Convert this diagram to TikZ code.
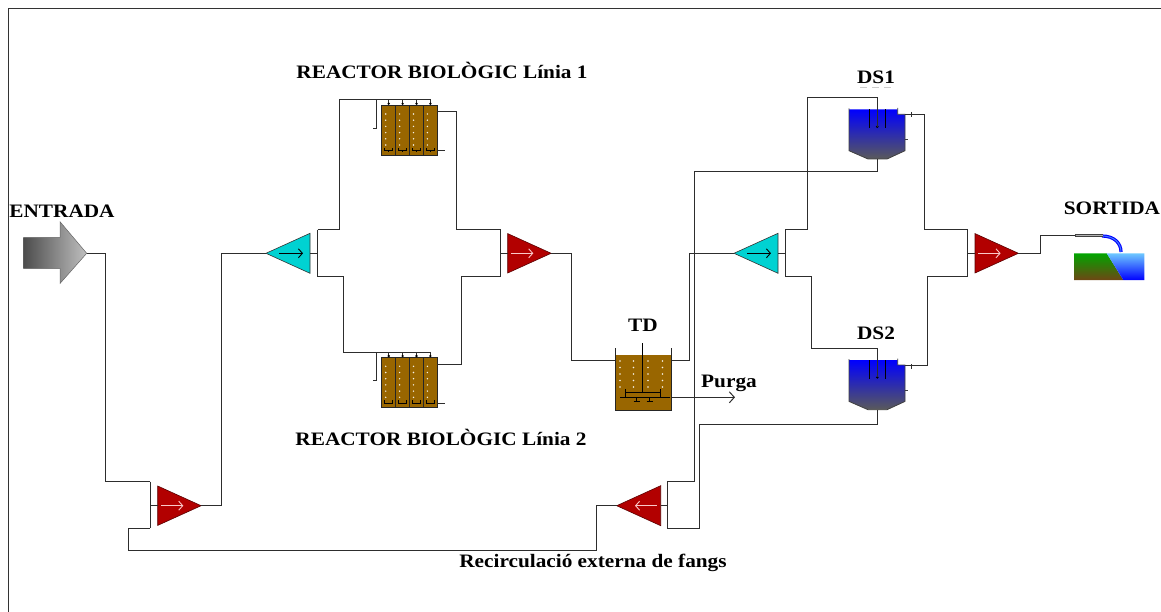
\documentclass[tikz,border=0pt]{standalone}
\usepackage{fontspec}
\setmainfont{Liberation Serif}
\newfontfamily\labfont[FakeStretch=1.12]{Liberation Serif}
\usetikzlibrary{arrows.meta,calc}

\definecolor{redfill}{RGB}{178,0,0}
\definecolor{redline}{RGB}{90,0,0}
\definecolor{arrowpink}{RGB}{250,200,200}
\definecolor{cyanfill}{RGB}{0,210,210}
\definecolor{sludge}{RGB}{153,102,0}
\definecolor{wirecol}{RGB}{45,45,45}
\definecolor{dsblue}{RGB}{0,0,255}
\definecolor{dsmid}{RGB}{30,30,175}
\definecolor{dsgray}{RGB}{90,90,90}
\definecolor{landgreen}{RGB}{0,165,0}
\definecolor{landbrown}{RGB}{110,70,20}
\definecolor{waterlight}{RGB}{110,200,255}

\tikzset{
  wire/.style={draw=wirecol, line width=1pt},
  lab/.style={font=\labfont\bfseries\fontsize{19}{22}\selectfont, inner sep=0pt, text=black},
  flowtip/.style={-{Straight Barb[length=4pt,width=9pt,line width=0.9pt]}},
  % red triangle, apex to the right; origin at the middle of its base
  pics/merge/.style={code={
    \filldraw[fill=redfill, draw=redline, line width=0.6pt] (0,-19.7) -- (43.4,0) -- (0,19.7) -- cycle;
    \draw[arrowpink, line width=0.8pt, flowtip] (3.3,0) -- (25.6,0);
    \coordinate (-w) at (0,0);
    \coordinate (-e) at (43.4,0);
  }},
  % cyan triangle, apex to the left; origin at the apex
  pics/split/.style={code={
    \filldraw[fill=cyanfill, draw=black!80, line width=0.6pt] (0,0) -- (44,-20) -- (44,20) -- cycle;
    \draw[black, line width=0.8pt, flowtip] (13,0) -- (37,0);
    \coordinate (-w) at (0,0);
    \coordinate (-e) at (44,0);
  }},
  % red triangle, apex to the left, flow to the left
  pics/pump/.style={code={
    \filldraw[fill=redfill, draw=redline, line width=0.6pt] (0,0) -- (44,-20) -- (44,20) -- cycle;
    \draw[arrowpink, line width=0.8pt, flowtip] (40,0) -- (18.3,0);
    \coordinate (-w) at (0,0);
    \coordinate (-e) at (44,0);
  }},
  % four-cell aerated reactor; origin at the top-left corner of the cells
  pics/reactor/.style={code={
    \foreach \c in {0,1,2,3} {
      \filldraw[fill=sludge, draw=black!85, line width=0.8pt] (\c*13.9,0) rectangle ++(13.9,50);
      \foreach \r in {0,...,5}
        \fill[white!90!sludge] (\c*13.9+4,9+\r*6.2) circle (0.8pt);
      \draw[black, line width=0.6pt] (\c*13.9+3,43) -- ++(0,2.5) -- ++(8,0) -- ++(0,-2.5);
      \draw[black, line width=0.6pt] (\c*13.9+7,45.5) -- ++(0,1.5);
      \draw[wirecol, line width=0.9pt] (\c*13.9+7,-5) -- (\c*13.9+7,-1.5);
      \fill[black] (\c*13.9+7,-1.3) circle (1.3pt);
    }
    \draw[wirecol, line width=0.9pt] (-5,-5) -- (-5,23.3) -- (-8.7,23.3);
    \draw[wirecol, line width=0.9pt] (55.6,45.7) -- (63.3,45.7);
    \coordinate (-feed) at (49.7,-5);
    \coordinate (-out) at (55.6,6.7);
  }},
  % secondary settler; origin at the top-left corner of the water surface
  pics/clarifier/.style={code={
    \shade[top color=dsblue, middle color=dsmid, bottom color=dsgray]
      (0,0) -- (48.7,0) -- (48.7,5) -- (56,5) -- (56,41.4) -- (38,49.7) -- (19,49.7) -- (0,41.4) -- cycle;
    \draw[black!75, line width=0.8pt]
      (0,-1) -- (0,41.4) -- (19,49.7) -- (38,49.7) -- (56,41.4) -- (56,5) -- (48.7,5) -- (48.7,-1.5);
    \draw[black, line width=0.9pt] (20.3,0) -- (20.3,19) (36,0) -- (36,19);
    \draw[black!75, line width=0.8pt] (56,30) -- (58.5,30);
    \coordinate (-in) at (28.3,17.4);
    \coordinate (-eff) at (56,5);
    \coordinate (-under) at (28.3,49.7);
  }}
}

\begin{document}
\begin{tikzpicture}[x=1pt,y=-1pt]
  \useasboundingbox (0,0) rectangle (1161,612);

  % frame
  \draw[black!80, line width=0.8pt] (8,612) -- (8,8) -- (1161,8);

  % ---------- inlet ----------
  \shade[left color=black!70, right color=black!25, draw=black!60, line width=0.5pt]
    (23.5,237.5) -- (60,237.5) -- (60,221.7) -- (86.7,253.3) -- (60,283.5) -- (60,268.5) -- (23.5,268.5) -- cycle;
  \coordinate (in) at (86.7,253.3);
  \node[lab] (lblin) at (62,211) {ENTRADA};

  % ---------- units ----------
  \pic (mx) at (157.7,505.7) {merge};
  \pic (sp1) at (266,253.3) {split};
  \pic (r1) at (381.7,105) {reactor};
  \pic (r2) at (381.7,357.3) {reactor};
  \pic (mg1) at (507.7,253.3) {merge};
  \pic (sp2) at (734,253.3) {split};
  \pic (ds1) at (849,109.3) {clarifier};
  \pic (ds2) at (849,360) {clarifier};
  \pic (mg2) at (975,253.3) {merge};
  \pic (rp) at (616.7,505.7) {pump};

  \fill (ds1-in) circle (1.4pt);
  \fill (ds2-in) circle (1.4pt);

  % ---------- TD tank with stirrer ----------
  \fill[sludge] (615,355) rectangle (671.7,410);
  \foreach \cx in {620,633.5,648,662.5}
    \foreach \r in {0,...,4}
      \fill[white!90!sludge] (\cx,361+\r*6.5) circle (0.8pt);
  \draw[black!85, line width=0.9pt] (615,348) -- (615,410) -- (671.7,410) -- (671.7,348);
  \draw[black, line width=1.4pt] (642.3,343.3) -- (642.3,392);
  \draw[black, line width=0.8pt] (625,392) -- (660,392)
        (625,389) -- (625,397.5) (660,389) -- (660,397.5)
        (620,397.5) -- (670,397.5)
        (636.5,397.5) -- (636.5,401.5) (633.5,401.5) -- (639.5,401.5)
        (649.5,397.5) -- (649.5,401.5) (646.5,401.5) -- (652.5,401.5);
  \coordinate (td-in) at (615,360);
  \coordinate (td-out) at (671.7,360);
  \coordinate (td-waste) at (671.7,397.3);
  \coordinate (purge) at (735,397.3);
  \draw[wire, -{Straight Barb[length=5pt,width=11pt,line width=1pt]}] (td-waste) -- (purge);

  % ---------- outfall ----------
  \shade[top color=landgreen, bottom color=landbrown] (1074,253.3) -- (1106.7,253.3) -- (1123.3,280) -- (1074,280) -- cycle;
  \shade[top color=waterlight, bottom color=dsblue] (1106.7,253.3) -- (1144.3,253.3) -- (1144.3,280) -- (1123.3,280) -- cycle;
  \draw[dsblue, line width=3.2pt] (1102,236) .. controls (1114,236) and (1121,243) .. (1121,252);
  \draw[waterlight!60!dsblue, line width=1pt] (1102,236) .. controls (1114,236) and (1121,243) .. (1121,252);
  \draw[black!75, line width=3.6pt] (1075,235.7) -- (1103,235.7);
  \draw[black!30, line width=1.4pt] (1075.5,235.7) -- (1102.5,235.7);
  \coordinate (pipe) at (1075,235.7);

  % ---------- junction points ----------
  \coordinate (b0t) at (150,481.7);
  \coordinate (b0b) at (150,528.3);
  \coordinate (b1t) at (317.7,230);
  \coordinate (b1b) at (317.7,276.7);
  \coordinate (b2t) at (500.7,230);
  \coordinate (b2b) at (500.7,276.7);
  \coordinate (b3t) at (785,230);
  \coordinate (b3b) at (785,276.7);
  \coordinate (b4t) at (967.7,230);
  \coordinate (b4b) at (967.7,276.7);
  \coordinate (b5t) at (667.3,481.7);
  \coordinate (b5b) at (667.3,528.3);

  % ---------- connectors ----------
  % feed to the inlet mixer
  \draw[wire] (in) -- (105.7,253.3) -- (105.7,481.7) -- (b0t);
  \draw[wire] (b0t) -- (b0b);
  \draw[wire] (150,505.7) -- (mx-w);
  % mixer to the first splitter
  \draw[wire] (mx-e) -- (221.7,505.7) -- (221.7,253.3) -- (sp1-w);
  \draw[wire] (sp1-e) -- (317.7,253.3);
  \draw[wire] (b1t) -- (b1b);
  % splitter to the two reactor lines
  \draw[wire] (b1t) -| (339,100) -- (r1-feed);
  \draw[wire] (b1b) -| (343.3,352.3) -- (r2-feed);
  % reactors to the merger
  \draw[wire] (r1-out) -| (456,230) -- (b2t);
  \draw[wire] (r2-out) -| (461,276.7) -- (b2b);
  \draw[wire] (b2t) -- (b2b);
  \draw[wire] (500.7,253.3) -- (mg1-w);
  % merger to TD
  \draw[wire] (mg1-e) -- (571.7,253.3) -- (571.7,360) -- (td-in);
  % TD to the second splitter
  \draw[wire] (td-out) -- (689,360) -- (689,253.3) -- (sp2-w);
  \draw[wire] (sp2-e) -- (785,253.3);
  \draw[wire] (b3t) -- (b3b);
  % splitter to the settlers
  \draw[wire] (b3t) -| (807.3,97.3) -| (ds1-in);
  \draw[wire] (b3b) -| (811.7,348.3) -| (ds2-in);
  % settler overflows to the final merger
  \draw[wire] (ds1-eff) -| (924,230) -- (b4t);
  \draw[wire] (ds2-eff) -| (927.7,276.7) -- (b4b);
  \draw[wire] (911,111.8) -- (911,116.8);
  \draw[wire] (911,364.2) -- (911,369.2);
  \draw[wire] (b4t) -- (b4b);
  \draw[wire] (967.7,253.3) -- (mg2-w);
  \draw[wire] (mg2-e) -- (1040,253.3) -- (1040,235.7) -- (pipe);
  % settler underflows to the recirculation pump
  \draw[wire] (ds1-under) -- (877.3,172) -- (694.3,172) -- (694.3,481.7) -- (b5t);
  \draw[wire] (ds2-under) -- (877.3,424) -- (699,424) -- (699,528.3) -- (b5b);
  \draw[wire] (b5t) -- (b5b);
  \draw[wire] (667.3,505.7) -- (rp-e);
  % external recirculation back to the inlet mixer
  \draw[wire] (rp-w) -- (596,505.7) -- (596,550) -- (128,550) -- (128,528.3) -- (b0b);

  % ---------- labels ----------
  \node[lab] (lblr1) at (442,70) {REACTOR BIOLÒGIC Línia 1};
  \node[lab] (lblr2) at (441,437) {REACTOR BIOLÒGIC Línia 2};
  \node[lab] (lbltd) at (643,325) {TD};
  \node[lab] (lblpurga) at (729,383) {Purga};
  \node[lab] (lblds1) at (876,77) {DS1};
  \draw[black!20, line width=1pt, dash pattern=on 7pt off 5pt] (860,88) -- (894,88);
  \node[lab] (lblds2) at (876,333) {DS2};
  \node[lab] (lblout) at (1112,208) {SORTIDA};
  \node[lab] (lblrec) at (593,563) {Recirculació externa de fangs};
\end{tikzpicture}
\end{document}
